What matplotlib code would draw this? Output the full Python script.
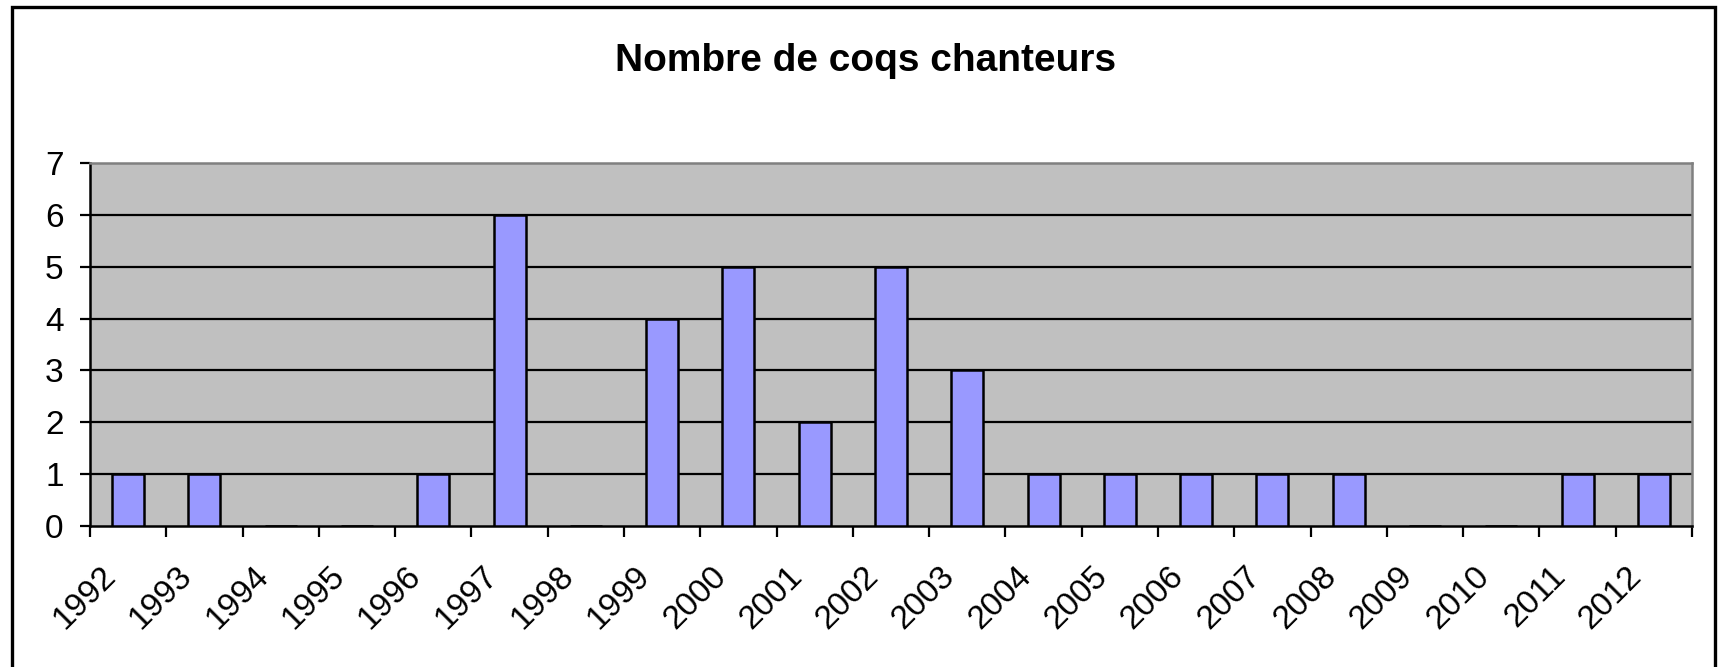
import matplotlib
matplotlib.use("Agg")
from matplotlib import pyplot as plt
from matplotlib.patches import Rectangle
import matplotlib.transforms as mtransforms
import numpy as np

plt.rcParams['font.family'] = ['Liberation Sans', 'DejaVu Sans']

years = ["1992", "1993", "1994", "1995", "1996", "1997", "1998", "1999", "2000", "2001",
         "2002", "2003", "2004", "2005", "2006", "2007", "2008", "2009", "2010", "2011", "2012"]
coqs = [1, 1, 0, 0, 1, 6, 0, 4, 5, 2, 5, 3, 1, 1, 1, 1, 1, 0, 0, 1, 1]
title = "Nombre de coqs chanteurs"

W, H = 1721, 667
fig = plt.figure(figsize=(W / 100, H / 100), dpi=100)

# outer frame of the chart (bottom edge runs off the picture)
fig.patches.append(Rectangle((12 / W, -0.05), (1715 - 12) / W, 1.05 - 7 / H,
                             transform=fig.transFigure, fill=False,
                             edgecolor="black", linewidth=2.4))

left, right, top, bottom = 90, 1692, 163, 526
ax = fig.add_axes([left / W, 1 - bottom / H, (right - left) / W, (bottom - top) / H])
ax.set_facecolor("#C0C0C0")

x = np.arange(len(years))
ax.bar(x, coqs, width=0.42, color="#9999FF", edgecolor="black", linewidth=1.8, zorder=3)

ax.set_xlim(-0.5, len(years) - 0.5)
ax.set_ylim(0, 7)
ax.set_yticks(range(0, 8))
for v in range(1, 7):
    ax.axhline(v, color="black", linewidth=1.6, zorder=1)

for side in ["top", "right"]:
    ax.spines[side].set_color("#808080")
    ax.spines[side].set_linewidth(1.8)
for side in ["left", "bottom"]:
    ax.spines[side].set_color("black")
    ax.spines[side].set_linewidth(1.8)

ax.tick_params(axis="y", length=7, width=1.6, pad=12, labelsize=24)

# tick marks between categories, labels without marks
ax.set_xticks(np.arange(len(years) + 1) - 0.5)
ax.set_xticklabels([])
ax.tick_params(axis="x", which="major", length=8, width=1.6)
ax.set_xticks(x, minor=True)
ax.set_xticklabels(years, minor=True, rotation=45, ha="right", rotation_mode="anchor")
ax.tick_params(axis="x", which="minor", length=0, pad=25, labelsize=24)
shift = mtransforms.ScaledTranslation(-28 / 100, 0, fig.dpi_scale_trans)
for lab in ax.get_xticklabels(minor=True):
    lab.set_transform(lab.get_transform() + shift)

fig.text(866 / W, 1 - 61 / H, title, ha="center", va="center",
         fontsize=28, fontweight="bold")

fig.savefig("out.png", dpi=100)
